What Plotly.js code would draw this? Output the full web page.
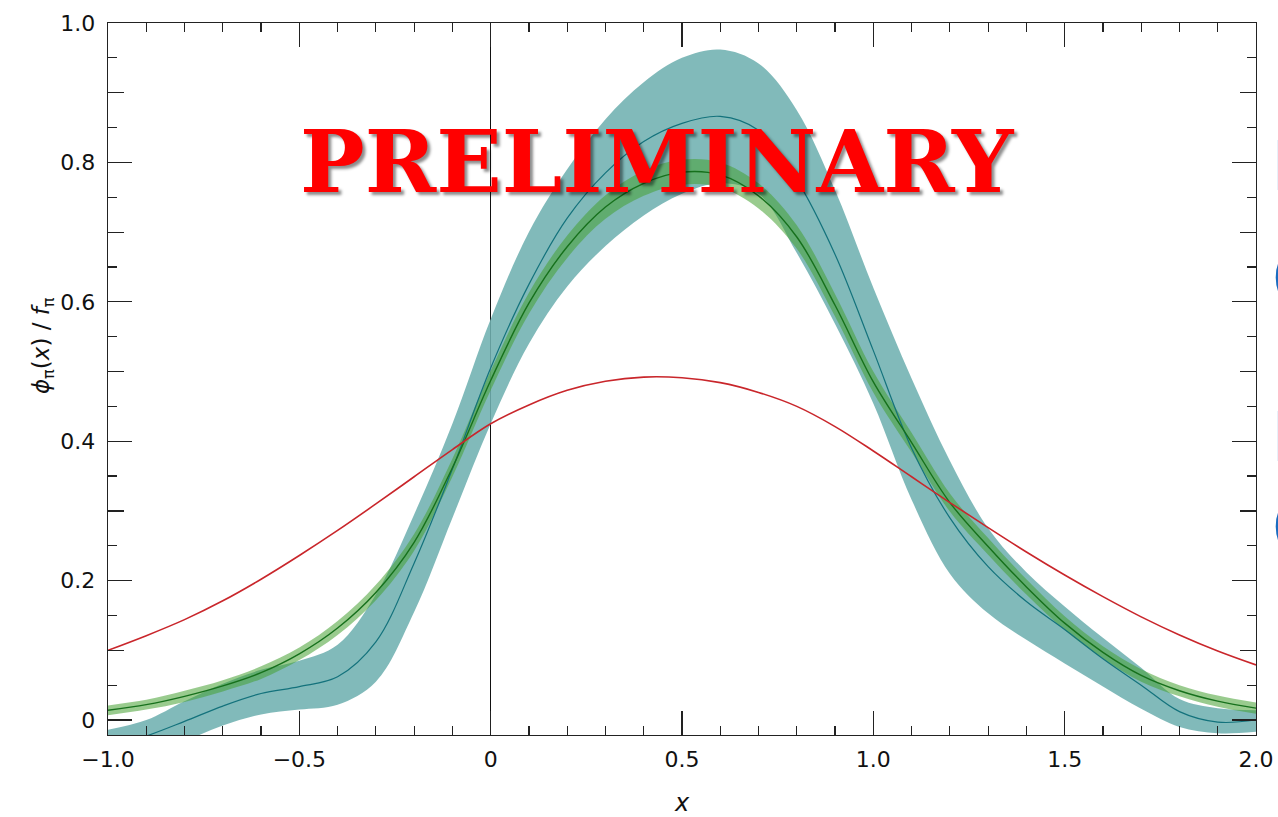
<!DOCTYPE html>
<html>
<head>
<meta charset="utf-8">
<script src="https://cdn.plot.ly/plotly-3.0.1.min.js"></script>
<style>
  html, body { margin: 0; padding: 0; background: #fff; }
  #chart { width: 1278px; height: 817px; }
</style>
</head>
<body>
<div id="chart"></div>
<script>
// Sample points along x (every 0.1 from -1 to 2)
const xs = [-1.0, -0.9, -0.8, -0.7, -0.6, -0.5, -0.4, -0.3, -0.2, -0.1,
             0.0,  0.1,  0.2,  0.3,  0.4,  0.5,  0.6,  0.7,  0.8,  0.9,
             1.0,  1.1,  1.2,  1.3,  1.4,  1.5,  1.6,  1.7,  1.8,  1.9, 2.0];

// Broad model distribution (red)
const redCurve = [0.100, 0.121, 0.144, 0.171, 0.202, 0.236, 0.272, 0.310, 0.349, 0.388,
                  0.425, 0.452, 0.473, 0.486, 0.492, 0.491, 0.484, 0.470, 0.450, 0.421,
                  0.386, 0.349, 0.312, 0.276, 0.241, 0.208, 0.177, 0.148, 0.122, 0.099, 0.079];

// Narrow green band: central value and its lower / upper edges
const greenMid = [0.014, 0.022, 0.034, 0.049, 0.068, 0.095, 0.132, 0.183, 0.255, 0.362,
                  0.487, 0.598, 0.679, 0.736, 0.770, 0.786, 0.782, 0.752, 0.693, 0.595,
                  0.485, 0.398, 0.312, 0.249, 0.191, 0.139, 0.097, 0.064, 0.042, 0.027, 0.017];
const greenLo  = [0.007, 0.015, 0.026, 0.041, 0.059, 0.086, 0.122, 0.172, 0.243, 0.349,
                  0.473, 0.583, 0.663, 0.719, 0.752, 0.768, 0.764, 0.734, 0.676, 0.579,
                  0.470, 0.384, 0.299, 0.237, 0.180, 0.129, 0.088, 0.055, 0.034, 0.019, 0.009];
const greenHi  = [0.021, 0.029, 0.042, 0.057, 0.077, 0.104, 0.142, 0.194, 0.267, 0.375,
                  0.501, 0.613, 0.695, 0.753, 0.788, 0.804, 0.800, 0.770, 0.710, 0.611,
                  0.500, 0.412, 0.325, 0.261, 0.202, 0.149, 0.106, 0.073, 0.050, 0.035, 0.025];

// Wide teal band: central value and its lower / upper edges
const tealMid = [-0.040, -0.023, -0.002, 0.020, 0.038, 0.048, 0.062, 0.112, 0.225, 0.360,
                  0.505,  0.625,  0.720, 0.785, 0.830, 0.856, 0.866, 0.846, 0.775, 0.668,
                  0.530,  0.390,  0.290, 0.220, 0.170, 0.130, 0.088, 0.050, 0.012, -0.003, 0.000];
const tealLo  = [-0.062, -0.048, -0.030, -0.008, 0.008, 0.015, 0.022, 0.055, 0.155, 0.290,
                  0.425,  0.540,  0.622,  0.680, 0.724, 0.755, 0.770, 0.755, 0.670, 0.568,
                  0.454,  0.316,  0.210,  0.153, 0.115, 0.081, 0.048, 0.016, -0.010, -0.019, -0.017];
const tealHi  = [-0.014, 0.000, 0.027, 0.052, 0.072, 0.085, 0.108, 0.180, 0.295, 0.425,
                  0.575, 0.700, 0.790, 0.862, 0.915, 0.950, 0.962, 0.942, 0.875, 0.760,
                  0.620, 0.490, 0.372, 0.275, 0.212, 0.163, 0.118, 0.075, 0.030, 0.017, 0.014];

// Axis tick labels
const xTickVals = [-1.0, -0.5, 0, 0.5, 1.0, 1.5, 2.0];
const xTickText = ['\u22121.0', '\u22120.5', '0', '0.5', '1.0', '1.5', '2.0'];
const yTickVals = [0, 0.2, 0.4, 0.6, 0.8, 1.0];
const yTickText = ['0', '0.2', '0.4', '0.6', '0.8', '1.0'];
const yMidTicks = [0.1, 0.3, 0.5, 0.7, 0.9];

const TEAL_FILL = 'rgba(112,176,176,0.88)';
const TEAL_LINE = '#13727c';
const GREEN_FILL = 'rgba(70,160,50,0.55)';
const GREEN_LINE = '#16701c';
const RED_LINE = '#c9262b';

const spline = {shape: 'spline', smoothing: 1};

const traces = [
  // teal band
  {x: xs, y: tealHi, mode: 'lines', line: Object.assign({width: 0, color: TEAL_FILL}, spline), hoverinfo: 'skip', showlegend: false},
  {x: xs, y: tealLo, mode: 'lines', fill: 'tonexty', fillcolor: TEAL_FILL, line: Object.assign({width: 0, color: TEAL_FILL}, spline), hoverinfo: 'skip', showlegend: false},
  // green band
  {x: xs, y: greenHi, mode: 'lines', line: Object.assign({width: 0, color: GREEN_FILL}, spline), hoverinfo: 'skip', showlegend: false},
  {x: xs, y: greenLo, mode: 'lines', fill: 'tonexty', fillcolor: GREEN_FILL, line: Object.assign({width: 0, color: GREEN_FILL}, spline), hoverinfo: 'skip', showlegend: false},
  // central curves
  {x: xs, y: tealMid, mode: 'lines', line: Object.assign({width: 1.2, color: TEAL_LINE}, spline), showlegend: false},
  {x: xs, y: greenMid, mode: 'lines', line: Object.assign({width: 1.4, color: GREEN_LINE}, spline), showlegend: false},
  {x: xs, y: redCurve, mode: 'lines', line: Object.assign({width: 1.6, color: RED_LINE}, spline), showlegend: false},
  // carrier for the medium-length ticks at odd tenths on the y axis
  {x: [null], y: [null], yaxis: 'y2', showlegend: false, hoverinfo: 'skip'}
];

const tickFont = {family: 'DejaVu Sans, Arial, sans-serif', size: 22, color: '#111'};

const layout = {
  width: 1278,
  height: 817,
  margin: {l: 108, r: 22, t: 23, b: 82},
  paper_bgcolor: '#ffffff',
  plot_bgcolor: '#ffffff',
  showlegend: false,
  xaxis: {
    range: [-1, 2],
    tickmode: 'array', tickvals: xTickVals, ticktext: xTickText,
    ticks: 'inside', ticklen: 24, tickwidth: 1.2, tickcolor: '#222',
    minor: {dtick: 0.1, ticks: 'inside', ticklen: 9, tickwidth: 1.2, tickcolor: '#222', showgrid: false},
    showline: true, linecolor: '#222', linewidth: 1.4, mirror: 'ticks',
    showgrid: false,
    zeroline: true, zerolinecolor: '#111', zerolinewidth: 1.2,
    tickfont: tickFont,
    ticklabelstandoff: 4,
    title: {text: '<i>x</i>', font: {family: 'DejaVu Sans, Arial, sans-serif', size: 24, color: '#111'}, standoff: 26}
  },
  yaxis: {
    range: [-0.0215, 1.0],
    tickmode: 'array', tickvals: yTickVals, ticktext: yTickText,
    ticks: 'inside', ticklen: 24, tickwidth: 1.2, tickcolor: '#222',
    minor: {dtick: 0.05, tick0: 0, ticks: 'inside', ticklen: 9, tickwidth: 1.2, tickcolor: '#222', showgrid: false},
    showline: true, linecolor: '#222', linewidth: 1.4, mirror: 'ticks',
    showgrid: false, zeroline: false,
    tickfont: tickFont,
    ticklabelstandoff: 7
  },
  yaxis2: {
    overlaying: 'y', anchor: 'x', side: 'left',
    range: [-0.0215, 1.0],
    tickmode: 'array', tickvals: yMidTicks,
    ticks: 'inside', ticklen: 16, tickwidth: 1.2, tickcolor: '#222',
    showticklabels: false, showline: false, mirror: 'ticks',
    showgrid: false, zeroline: false
  },
  annotations: [
    {
      xref: 'paper', yref: 'paper', x: -0.057, y: 0.547,
      text: '<i>\u03d5</i><sub>\u03c0</sub>(<i>x</i>) / <i>f</i><sub>\u03c0</sub>',
      textangle: -90, showarrow: false, xanchor: 'center', yanchor: 'middle',
      font: {family: 'DejaVu Sans, Arial, sans-serif', size: 23, color: '#111'}
    },
    {
      xref: 'paper', yref: 'paper', x: 0.479, y: 0.806,
      text: 'PRELIMINARY', showarrow: false, xanchor: 'center', yanchor: 'middle',
      font: {family: 'DejaVu Serif, serif', size: 86, color: '#ff0000', weight: 900,
             shadow: '3px 3px 3px rgba(0,0,0,0.45)'}
    },
    {xref: 'paper', yref: 'paper', x: 1.0125, y: 0.8, text: 'L', showarrow: false, xanchor: 'left', yanchor: 'middle',
     font: {family: 'Liberation Sans, Arial, sans-serif', size: 72, color: '#1a6cc0'}},
    {xref: 'paper', yref: 'paper', x: 1.0125, y: 0.65, text: '(', showarrow: false, xanchor: 'left', yanchor: 'middle',
     font: {family: 'Liberation Sans, Arial, sans-serif', size: 60, color: '#1a6cc0'}},
    {xref: 'paper', yref: 'paper', x: 1.0125, y: 0.42, text: 'L', showarrow: false, xanchor: 'left', yanchor: 'middle',
     font: {family: 'Liberation Sans, Arial, sans-serif', size: 72, color: '#1a6cc0'}},
    {xref: 'paper', yref: 'paper', x: 1.0125, y: 0.30, text: '(', showarrow: false, xanchor: 'left', yanchor: 'middle',
     font: {family: 'Liberation Sans, Arial, sans-serif', size: 60, color: '#1a6cc0'}}
  ]
};

Plotly.newPlot('chart', traces, layout, {displayModeBar: false, staticPlot: true});
</script>
</body>
</html>
